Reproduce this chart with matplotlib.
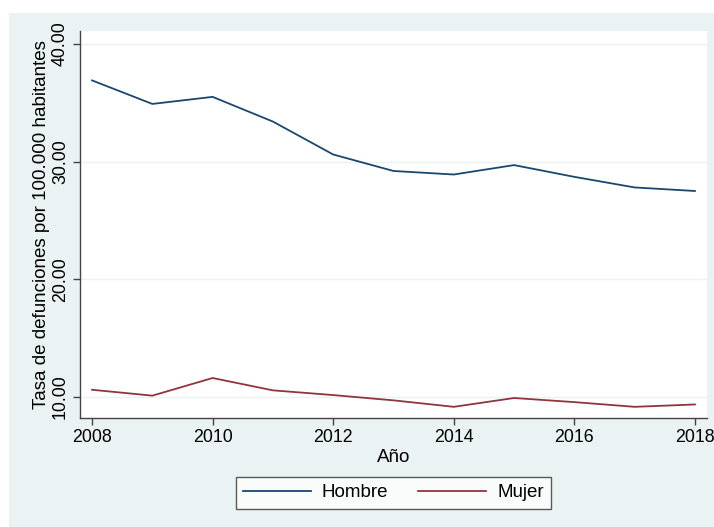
import matplotlib.pyplot as plt
from matplotlib.patches import Rectangle

# Data
years = [2008, 2009, 2010, 2011, 2012, 2013, 2014, 2015, 2016, 2017, 2018]
hombre = [36.9, 34.9, 35.5, 33.4, 30.6, 29.2, 28.9, 29.7, 28.7, 27.8, 27.5]
mujer = [10.6, 10.1, 11.6, 10.55, 10.15, 9.7, 9.15, 9.9, 9.55, 9.15, 9.35]
y_ticks = [10, 20, 30, 40]
x_ticks = [2008, 2010, 2012, 2014, 2016, 2018]

plt.rcParams['font.family'] = ['Liberation Sans', 'DejaVu Sans']
fs = 13.5
tick_fs = 12.8

W, H = 714, 527
fig = plt.figure(figsize=(W / 100, H / 100), dpi=100, facecolor='white')

# Stata-like outer background
bg = Rectangle((9 / W, 0), 1 - 9 / W, 1 - 13 / H, transform=fig.transFigure,
               facecolor='#eaf2f3', edgecolor='none', zorder=-10)
fig.add_artist(bg)

ax = fig.add_axes([80 / W, (H - 418) / H, 627 / W, 387 / H])
ax.set_zorder(1)
ax.set_facecolor('white')

ax.plot(years, hombre, color='#1a476f', linewidth=1.3, label='Hombre')
ax.plot(years, mujer, color='#90353b', linewidth=1.3, label='Mujer')

ax.set_xlim(2007.8, 2018.2)
ax.set_ylim(8.2, 41.1)
ax.set_yticks(y_ticks)
ax.set_yticklabels([f'{v:.2f}' for v in y_ticks], rotation=90, va='center', fontsize=tick_fs)
ax.set_xticks(x_ticks)
ax.set_xticklabels([str(v) for v in x_ticks], fontsize=tick_fs)
ax.grid(axis='y', color='#eaf2f3', linewidth=1)
ax.set_axisbelow(True)

for s in ['top', 'right']:
    ax.spines[s].set_visible(False)
for s in ['left', 'bottom']:
    ax.spines[s].set_color('#444444')
    ax.spines[s].set_linewidth(1)
ax.tick_params(direction='out', length=5, width=1, color='#444444', pad=3)

ax.set_xlabel('Año', fontsize=fs, labelpad=2)
ax.set_ylabel('Tasa de defunciones por 100.000 habitantes', fontsize=fs, labelpad=1)

leg = ax.legend(loc='upper center', bbox_to_anchor=(0.5, -0.152), ncol=2, frameon=True,
                fancybox=False, edgecolor='#333333', fontsize=fs, handlelength=3.6,
                handletextpad=0.6, columnspacing=1.6, borderpad=0.4, borderaxespad=0)
leg.get_frame().set_linewidth(1)

fig.savefig('out.png', dpi=100, facecolor=fig.get_facecolor())
